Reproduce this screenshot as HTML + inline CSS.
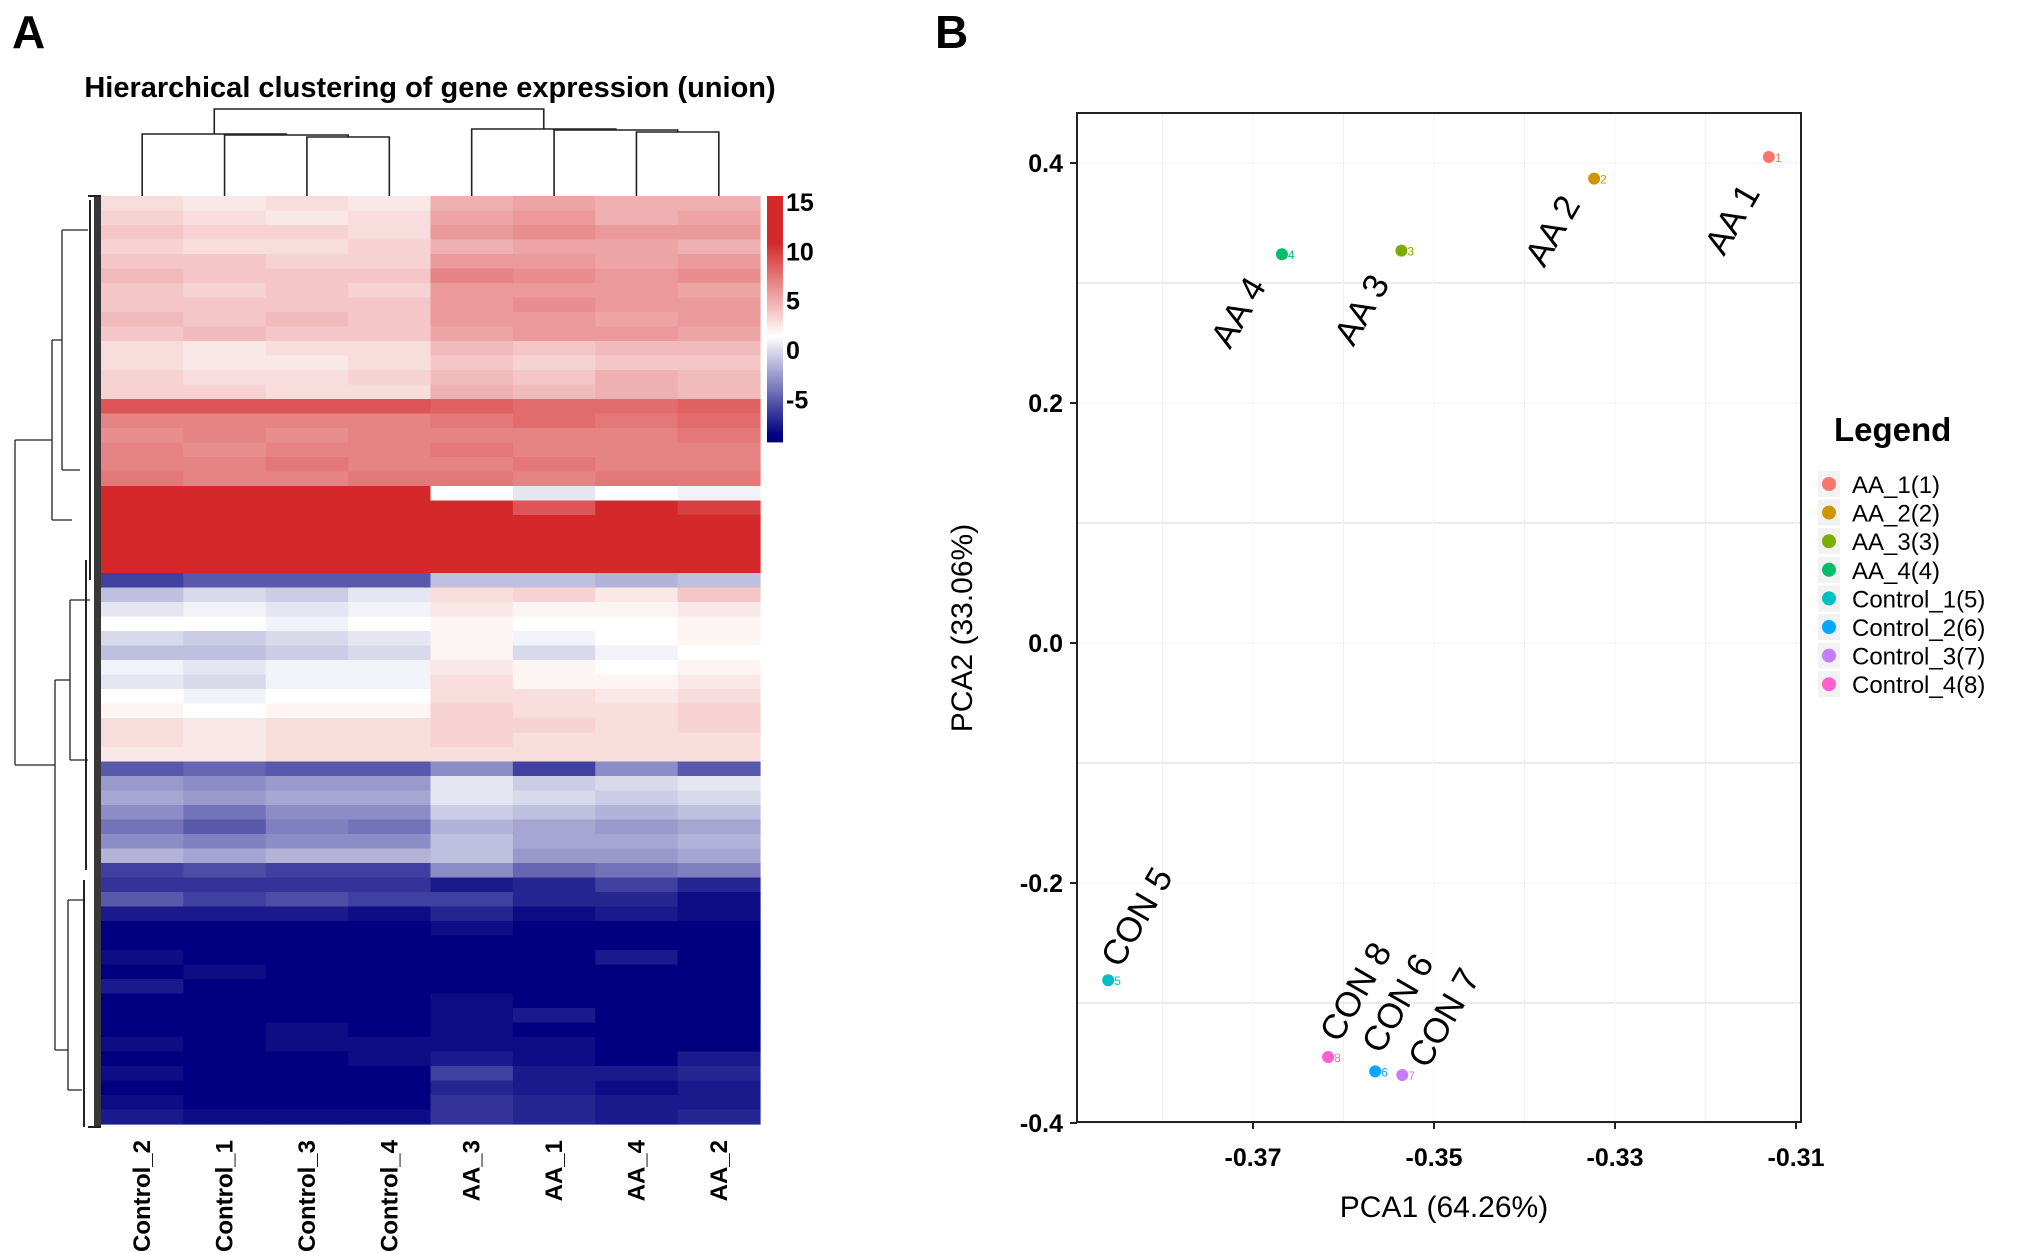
<!DOCTYPE html>
<html><head><meta charset="utf-8"><style>
html,body{margin:0;padding:0;background:#fff;}
svg{display:block;font-family:"Liberation Sans",Arial,sans-serif;}
</style></head><body>
<svg id="fig" width="2031" height="1253" viewBox="0 0 2031 1253" xmlns="http://www.w3.org/2000/svg">
<text x="12" y="48" font-size="46" font-weight="bold">A</text>
<text x="935" y="48" font-size="46" font-weight="bold">B</text>
<text x="430" y="97" font-size="29" font-weight="bold" text-anchor="middle">Hierarchical clustering of gene expression (union)</text>
<g id="heat"></g>
<g id="coldendro" stroke="#222" stroke-width="1.6" fill="none"></g>
<g id="rowdendro" stroke="#222" stroke-width="1.3" fill="none">
<path d="M15 440 L15 765 M15 440 L52 440 M15 765 L55 765 M52 340 L52 520 M52 340 L62 340 M52 520 L72 520 M62 230 L62 470 M62 230 L88 230 M62 470 L80 470 M55 680 L55 1050 M55 680 L70 680 M55 1050 L68 1050 M70 600 L70 760 M70 600 L90 600 M70 760 L88 760 M68 900 L68 1090 M68 900 L85 900 M68 1090 L82 1090"/>
<path d="M88 196 L101 196 M88 1127 L101 1127 M84 880 L84 1127 M86 560 L86 870 M90 200 L90 580" stroke-width="2"/>
<rect x="94" y="196" width="7" height="931" fill="#222" stroke="none" opacity="0.9"/>
</g>
<g id="cbar"></g>
<g id="pca"></g>
</svg>
<script>
// ---------- Heatmap data ----------
const sampleNames = ["Control_2","Control_1","Control_3","Control_4","AA_3","AA_1","AA_4","AA_2"];
const heatRows = [
[3,2.5,3,2.5,5,5.5,5,5],[3.5,3,2.5,3,5.5,6,5,5.5],[4,3.5,3.5,3,6,6.5,6,6],[3.5,3,3,3.5,5,5.5,5.5,5],
[4,4,3.5,3.5,6,6,5.5,6],[4.5,4,4,4,7,6.5,6,6.5],[4,3.5,4,3.5,6,6,6,5.5],[4,4,4,4,6,6.5,6,6],
[4.5,4,4.5,4,6,6,5.5,6],[4,4.5,4,4,5.5,6,6,5.5],[3,2.5,3,3,4.5,4,4.5,4.5],[3,2.5,2.5,3,4,3.5,4,4],
[3.5,3,3,3.5,4.5,4,5,4.5],[3.5,3.5,3,3,5,4.5,5,4.5],[9,9,9,9,8.5,8,8,8.5],[7,7,7,7,7.5,8,7.5,8],
[6.5,7,6.5,7,7,7,7,7.5],[7,6.5,7,7,7.5,7,7,7],[7,7,7.5,7,7,7.5,7,7],[7.5,7,7,7.5,7.5,7,7.5,7.5],
[11,11,11,11,1.5,0.5,1.5,1],[12,12,12,12,12,9,11,10],[12,12,12,12,12,12,12,12],[12,12,12,12,12,12,12,12],
[12,12,12,12,12,11,12,12],[12,12,12,12,12,12,12,12],[-6,-5,-5,-5,-1,-1,-1.5,-1],[-1,0,-0.5,0.5,3,3.5,2.5,4],
[0.5,1,0.5,1,2.5,2,2,2.5],[1.5,1.5,1,1.5,2,1.5,1.5,2],[0,-0.5,0,0.5,2,1,1.5,2],[-1,-1,-0.5,0,2,0,1,1.5],
[1,0.5,1,1,2.5,2,1.5,2],[0.5,0,1,1,3,2,2,2.5],[1.5,1,1.5,1.5,3,3,2.5,3],[2,1.5,2,2,3.5,3,3,3.5],
[3,2.5,3,3,3.5,3.5,3,3.5],[3,2.5,3,3,3.5,3,3,3],[2.5,2.5,3,3,3,3,3,3],[-5,-4.5,-5,-5,-3,-6,-3,-5],
[-2.5,-3,-2.5,-2.5,0.5,-0.5,0,0.5],[-2,-2.5,-2,-2,0.5,0,-0.5,0],[-3,-4,-3,-3,-0.5,-1,-1.5,-1],
[-4,-5,-3.5,-4,-1.5,-2,-2.5,-2],[-3,-3.5,-3,-3,-1,-2,-2,-1.5],[-1.5,-2,-1.5,-1.5,-1,-2.5,-2.5,-2],
[-6,-5.5,-6,-6,-3,-4.5,-4,-3.5],[-6.5,-6.5,-6.5,-6.5,-7.5,-7,-6,-7],[-5,-6,-5.5,-6,-6,-7,-7,-8],
[-7.5,-7.5,-7.5,-8,-7,-8,-7.5,-8],[-8.5,-8.5,-8.5,-8.5,-8,-8.5,-8.5,-8.5],[-8.5,-8.5,-8.5,-8.5,-8.5,-8.5,-8.5,-8.5],
[-8,-8.5,-8.5,-8.5,-8.5,-8.5,-7.5,-8.5],[-8.5,-8,-8.5,-8.5,-8.5,-8.5,-8.5,-8.5],[-7.5,-8.5,-8.5,-8.5,-8.5,-8.5,-8.5,-8.5],
[-8.5,-8.5,-8.5,-8.5,-8,-8.5,-8.5,-8.5],[-8.5,-8.5,-8.5,-8.5,-8,-7.5,-8.5,-8.5],[-8.5,-8.5,-8,-8.5,-8,-8.5,-8.5,-8.5],
[-8,-8.5,-8,-8,-8,-8,-8.5,-8.5],[-8.5,-8.5,-8.5,-8,-7.5,-8,-8.5,-7.5],[-8,-8.5,-8.5,-8.5,-6,-7.5,-7.5,-7],
[-8.5,-8.5,-8.5,-8.5,-7,-7.5,-8,-7.5],[-8,-8.5,-8.5,-8.5,-6.5,-7,-7.5,-7.5],[-7.5,-8,-8,-8,-6.5,-7,-7.5,-7]
];
const cbarTicks = [15,10,5,0,-5];

// ---------- PCA data ----------
const pcaNames = ["AA_1(1)","AA_2(2)","AA_3(3)","AA_4(4)","Control_1(5)","Control_2(6)","Control_3(7)","Control_4(8)"];
const pcaShort = ["AA 1","AA 2","AA 3","AA 4","CON 5","CON 6","CON 7","CON 8"];
const pcaX = [-0.3130,-0.3323,-0.3536,-0.3668,-0.3860,-0.3565,-0.3535,-0.3617];
const pcaY = [0.405,0.387,0.327,0.324,-0.281,-0.357,-0.360,-0.345];
const xTicks = [-0.37,-0.35,-0.33,-0.31];
const yTicks = [0.4,0.2,0.0,-0.2,-0.4];

const NS="http://www.w3.org/2000/svg";
function mk(tag,attrs,parent){const e=document.createElementNS(NS,tag);for(const k in attrs)e.setAttribute(k,attrs[k]);parent.appendChild(e);return e;}

// ---- heatmap ----
const hx0=101,hx1=760,hy0=196,hy1=1124;
const cw=(hx1-hx0)/sampleNames.length, rh=(hy1-hy0)/heatRows.length;
function lerp(a,b,t){return Math.round(a+(b-a)*t);}
function heatColor(v){
  const mid=1.5;
  if(v<=mid){let t=Math.max(0,Math.min(1,(v+8.5)/(mid+8.5)));return `rgb(${lerp(0,255,t)},${lerp(0,255,t)},${lerp(128,255,t)})`;}
  let t=Math.max(0,Math.min(1,(v-mid)/(11-mid)));return `rgb(${lerp(255,212,t)},${lerp(255,40,t)},${lerp(255,42,t)})`;
}
const heat=document.getElementById('heat');
heatRows.forEach((row,i)=>{row.forEach((v,j)=>{
  const r=mk('rect',{x:hx0+j*cw,y:hy0+i*rh,width:cw+0.6,height:rh+0.6,fill:heatColor(v)},heat);
  
  
});});
sampleNames.forEach((n,j)=>{
  const cx=hx0+(j+0.5)*cw;
  const t=mk('text',{x:0,y:0,'font-size':24,'font-weight':'bold','text-anchor':'end',transform:`translate(${cx+8},1140) rotate(-90)`},heat);
  t.textContent=n;
  
  
});
// column dendrogram
const cd=document.getElementById('coldendro');
const colX=j=>hx0+(j+0.5)*cw;
function bracket(xa,ya,xb,yb,top){mk('path',{d:`M${xa} ${ya} L${xa} ${top} L${xb} ${top} L${xb} ${yb}`},cd);}
bracket(colX(2),hy0,colX(3),hy0,137);
const m1=(colX(2)+colX(3))/2;
bracket(colX(1),hy0,m1,137,135);
const m2=(colX(1)+m1)/2;
bracket(colX(0),hy0,m2,135,134);
const mL=(colX(0)+m2)/2;
bracket(colX(6),hy0,colX(7),hy0,132);
const n1=(colX(6)+colX(7))/2;
bracket(colX(5),hy0,n1,132,130);
const n2=(colX(5)+n1)/2;
bracket(colX(4),hy0,n2,130,129);
const mR=(colX(4)+n2)/2;
bracket(mL,134,mR,129,109);
// color bar
const cb=document.getElementById('cbar');
const cbTop=196,cbBot=441,cbMax=15.6,cbMin=-9.2;
const cbY=v=>cbTop+(cbMax-v)/(cbMax-cbMin)*(cbBot-cbTop);
for(let y=cbTop;y<cbBot;y+=2){const v=cbMax-(y-cbTop)/(cbBot-cbTop)*(cbMax-cbMin);mk('rect',{x:767,y:y,width:16,height:2.4,fill:heatColor(v)},cb);}
cbarTicks.forEach(v=>{const t=mk('text',{x:786,y:cbY(v)+9,'font-size':25,'font-weight':'bold'},cb);t.textContent=v;
  
  });

// ---- PCA ----
const pca=document.getElementById('pca');
const px0=1077,px1=1801,py0=113,py1=1122;
const xs=v=>1434+(v+0.35)*9050;
const ys=v=>643-v*1200;
const colors=["#F8766D","#CD9600","#7CAE00","#00BE67","#00BFC4","#00A9FF","#C77CFF","#FF61CC"];
const labelOff=[[-45,100],[-50,90],[-48,97],[-52,96],[12,-11],[6,-16],[25,-5],[11,-13]];
// grid
[-0.38,-0.36,-0.34,-0.32].forEach(v=>mk('line',{x1:xs(v),x2:xs(v),y1:py0,y2:py1,stroke:'#f0f0f0','stroke-width':1.2},pca));
[0.3,0.1,-0.1,-0.3].forEach(v=>mk('line',{x1:px0,x2:px1,y1:ys(v),y2:ys(v),stroke:'#ececec','stroke-width':2},pca));
xTicks.forEach(v=>mk('line',{x1:xs(v),x2:xs(v),y1:py0,y2:py1,stroke:'#f4f4f4','stroke-width':1},pca));
yTicks.forEach(v=>mk('line',{x1:px0,x2:px1,y1:ys(v),y2:ys(v),stroke:'#f4f4f4','stroke-width':1},pca));
mk('rect',{x:px0,y:py0,width:px1-px0,height:py1-py0,fill:'none',stroke:'#222','stroke-width':2},pca);
xTicks.forEach(v=>{mk('line',{x1:xs(v),x2:xs(v),y1:py1,y2:py1+7,stroke:'#222','stroke-width':2},pca);
  const t=mk('text',{x:xs(v),y:py1+44,'font-size':25,'font-weight':'bold','text-anchor':'middle'},pca);t.textContent=v.toFixed(2);
  
  });
yTicks.forEach(v=>{mk('line',{x1:px0-7,x2:px0,y1:ys(v),y2:ys(v),stroke:'#222','stroke-width':2},pca);
  const t=mk('text',{x:px0-14,y:ys(v)+9,'font-size':25,'font-weight':'bold','text-anchor':'end'},pca);t.textContent=v.toFixed(1);
  
  });
const xt=mk('text',{x:1444,y:1217,'font-size':30,'text-anchor':'middle'},pca);xt.textContent="PCA1 (64.26%)";


const yt=mk('text',{x:0,y:0,'font-size':30,'text-anchor':'middle',transform:'translate(972,628) rotate(-90)'},pca);yt.textContent="PCA2 (33.06%)";


pcaX.forEach((xv,i)=>{
  const cx=xs(xv),cy=ys(pcaY[i]);
  const c=mk('circle',{cx:cx,cy:cy,r:6,fill:colors[i]},pca);
  
  
  const n=mk('text',{x:cx+6,y:cy+5,'font-size':12,fill:colors[i]},pca);n.textContent=(i+1);
  
  
  const ax=cx+labelOff[i][0],ay=cy+labelOff[i][1];
  const l=mk('text',{x:0,y:0,'font-size':35,transform:`translate(${ax},${ay}) rotate(-60)`},pca);l.textContent=pcaShort[i];
  
  
});
// legend
const lt=mk('text',{x:1834,y:441,'font-size':33,'font-weight':'bold'},pca);lt.textContent="Legend";


pcaNames.forEach((nm,i)=>{
  const y=484+i*28.6;
  mk('rect',{x:1818,y:y-13,width:22,height:26,fill:'#f2f2f2'},pca);
  const d=mk('circle',{cx:1829,cy:y,r:7,fill:colors[i]},pca);
  
  
  const t=mk('text',{x:1852,y:y+9,'font-size':24},pca);t.textContent=nm;
  
  
});
</script>
</body></html>
